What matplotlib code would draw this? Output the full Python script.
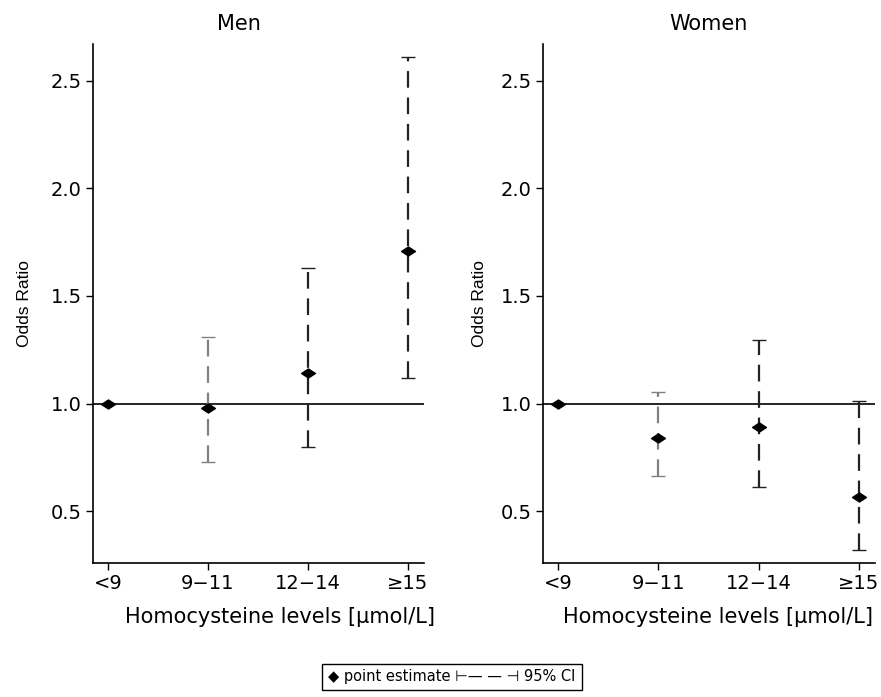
import matplotlib
matplotlib.use("Agg")
import matplotlib.pyplot as plt
import numpy as np

plt.rcParams['font.family'] = ['DejaVu Sans']
plt.rcParams['lines.scale_dashes'] = False

categories = ["<9", "9\u221211", "12\u221214", "\u226515"]
men_or = [1.00, 0.98, 1.14, 1.71]
men_lo = [1.00, 0.73, 0.80, 1.12]
men_hi = [1.00, 1.31, 1.63, 2.61]
women_or = [1.00, 0.84, 0.89, 0.565]
women_lo = [1.00, 0.665, 0.615, 0.32]
women_hi = [1.00, 1.055, 1.295, 1.01]
bar_colors = ["#222222", "#808080", "#222222", "#222222"]
yticks = [0.5, 1.0, 1.5, 2.0, 2.5]

W, H = 881, 697
fig = plt.figure(figsize=(W / 100, H / 100), dpi=100)

diamond = [(-1, 0), (0, 0.65), (1, 0), (0, -0.65), (-1, 0)]

def panel(rect, title, title_x, est, lo, hi, ylab_x, xlab_x):
    ax = fig.add_axes(rect)
    x = np.arange(len(categories))
    ax.axhline(1.0, color="black", lw=1.2, zorder=1)
    for i in range(len(categories)):
        if lo[i] == hi[i]:
            continue
        eb = ax.errorbar(x[i], est[i], yerr=[[est[i] - lo[i]], [hi[i] - est[i]]],
                         fmt="none", ecolor=bar_colors[i], elinewidth=1.6,
                         capsize=5, capthick=1.0, zorder=2)
        eb[2][0].set_linestyle((0, (12, 7)))
    ax.plot(x, est, linestyle="none", marker=diamond, markersize=10,
            color="black", zorder=3)
    ax.set_xlim(-0.15, 3.16)
    ax.set_ylim(0.26, 2.67)
    ax.set_xticks(x)
    ax.set_xticklabels(categories, fontsize=14)
    ax.set_yticks(yticks)
    ax.set_yticklabels([f"{v:.1f}" for v in yticks], fontsize=14)
    ax.tick_params(direction="out", length=5, width=1, pad=3)
    for s in ["top", "right"]:
        ax.spines[s].set_visible(False)
    for s in ["left", "bottom"]:
        ax.spines[s].set_linewidth(1.2)
    ax.set_title(title, x=title_x, pad=10, fontsize=15)
    ax.set_ylabel("Odds Ratio", fontsize=12.5,
                  family=["Liberation Sans", "DejaVu Sans"])
    ax.yaxis.set_label_coords(ylab_x, 0.5)
    ax.set_xlabel("Homocysteine levels [\u03bcmol/L]", fontsize=15)
    ax.xaxis.set_label_coords(xlab_x, -0.085)
    return ax

bottom = 1 - 563 / H
height = 519 / H
panel([93 / W, bottom, 331 / W, height], "Men", 0.441,
      men_or, men_lo, men_hi, -0.184, 0.565)
panel([543 / W, bottom, 332 / W, height], "Women", 0.5,
      women_or, women_lo, women_hi, -0.169, 0.527)

fig.text(452 / W, 1 - 677 / H,
         "\u25c6 point estimate \u22a2\u2014 \u2014 \u22a3 95% CI",
         ha="center", va="center", fontsize=10.5,
         bbox=dict(boxstyle="square,pad=0.4", fc="white", ec="black", lw=1.0))

fig.savefig("out.png", dpi=100)
